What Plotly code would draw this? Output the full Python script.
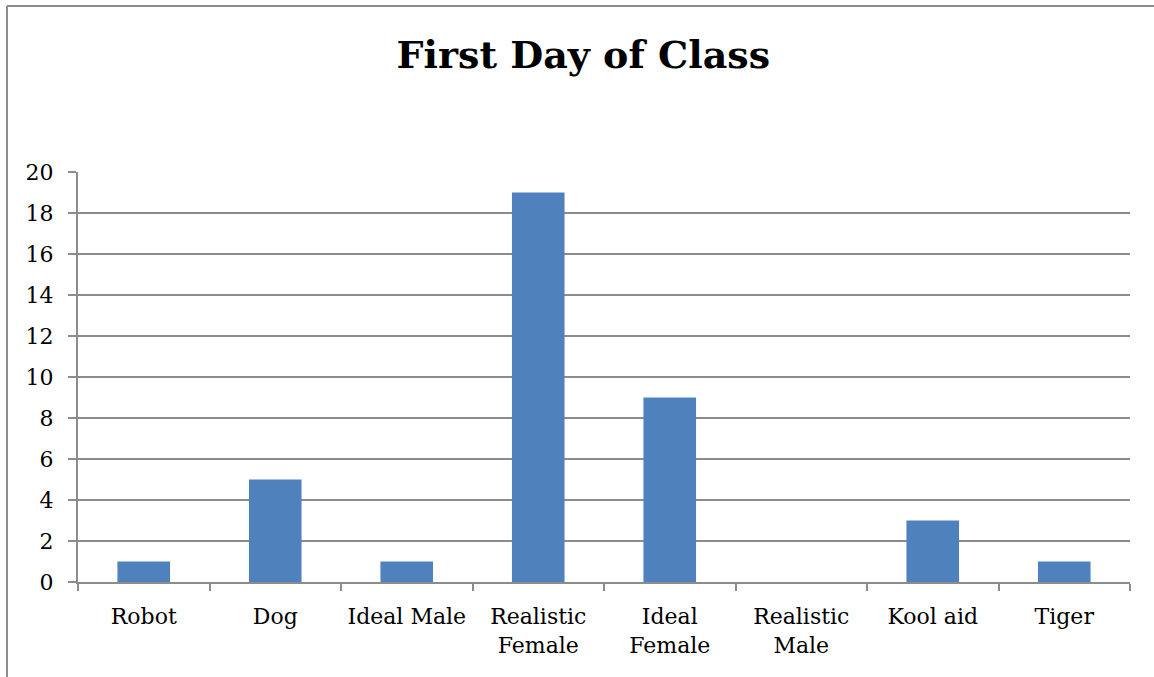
import plotly.graph_objects as go

categories = ["Robot", "Dog", "Ideal Male", "Realistic<br>Female", "Ideal<br>Female",
              "Realistic<br>Male", "Kool aid", "Tiger"]
values = [1, 5, 1, 19, 9, 0, 3, 1]
y_ticks = list(range(0, 21, 2))

FONT = "DejaVu Serif"
GRAY = "#8c8c8c"

fig = go.Figure(go.Bar(x=categories, y=values, marker=dict(color="#4F81BD", line=dict(width=0)),
                       width=0.4))

W, H = 1154, 677
L, R, T, B = 78, 24, 172, 95
pw, ph = W - L - R, H - T - B

def px(x):
    return (x - L) / pw

def py(y):
    return (H - B - y) / ph

fig.update_layout(
    width=W, height=H,
    margin=dict(l=L, r=R, t=T, b=B),
    paper_bgcolor="white", plot_bgcolor="white",
    showlegend=False,
    title=dict(text="<b>First Day of Class</b>", x=0.5055, xanchor="center", y=1 - 55 / H,
               yanchor="middle", font=dict(family=FONT, size=38, color="black")),
    font=dict(family=FONT, size=22, color="black"),
    xaxis=dict(showline=True, linecolor=GRAY, linewidth=2, ticks="outside", tickson="boundaries",
               ticklen=7, tickcolor=GRAY, tickwidth=2, showgrid=False, ticklabelstandoff=14,
               tickfont=dict(family=FONT, size=22, color="black")),
    yaxis=dict(range=[0, 20], tickvals=y_ticks, showline=True, linecolor=GRAY, linewidth=2,
               ticks="outside", ticklen=8, tickcolor=GRAY, tickwidth=2, ticklabelstandoff=10,
               showgrid=True, gridcolor=GRAY, gridwidth=2, zeroline=False,
               tickfont=dict(family=FONT, size=22, color="black")),
    shapes=[
        dict(type="line", xref="paper", yref="paper", x0=px(7), x1=px(7), y0=py(H + 5), y1=py(6),
             line=dict(color=GRAY, width=2)),
        dict(type="line", xref="paper", yref="paper", x0=px(7), x1=px(W + 5), y0=py(6), y1=py(6),
             line=dict(color=GRAY, width=2)),
    ],
)

fig.write_html("out.html", config={"displayModeBar": False},
               post_script="document.body.style.margin='0px';")
